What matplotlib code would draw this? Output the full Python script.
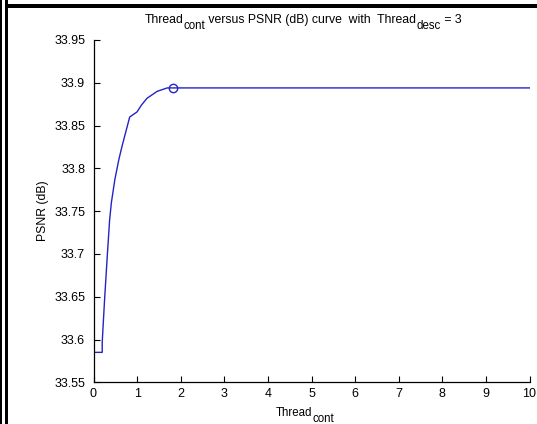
import matplotlib
matplotlib.use("Agg")
import matplotlib.pyplot as plt
from matplotlib.patches import Rectangle

plt.rcParams["font.family"] = ["Liberation Sans", "DejaVu Sans"]

# PSNR as a function of Thread_cont (Thread_desc = 3)
thread_cont = [0, 0.2, 0.2, 0.25, 0.31, 0.37, 0.41, 0.49, 0.58, 0.65, 0.83,
               1.0, 1.1, 1.23, 1.46, 1.69, 1.82, 10]
psnr = [33.585, 33.585, 33.597, 33.643, 33.693, 33.740, 33.760, 33.787, 33.810,
        33.825, 33.860, 33.866, 33.874, 33.882, 33.890, 33.894, 33.894, 33.894]
best_cont = 1.82
best_psnr = 33.894

x_ticks = list(range(0, 11))
y_ticks = [33.55, 33.6, 33.65, 33.7, 33.75, 33.8, 33.85, 33.9, 33.95]
y_tick_labels = ["33.55", "33.6", "33.65", "33.7", "33.75", "33.8", "33.85", "33.9", "33.95"]

W, H = 537, 424
fig = plt.figure(figsize=(W / 100, H / 100), dpi=100)
ax = fig.add_axes([93.5 / W, 1 - 382.3 / H, 436 / W, (382.3 - 40) / H])

line_color = "#2323c8"
ax.plot(thread_cont, psnr, color=line_color, lw=1.0)
ax.plot([best_cont], [best_psnr], marker="o", mfc="none", mec=line_color,
        ms=6, mew=1.0, ls="none")

ax.set_xlim(0, 10)
ax.set_ylim(33.55, 33.95)
ax.set_xticks(x_ticks)
ax.set_yticks(y_ticks)
ax.set_yticklabels(y_tick_labels)
for s in ("top", "right"):
    ax.spines[s].set_visible(False)
for s in ("left", "bottom"):
    ax.spines[s].set_linewidth(0.9)
ax.tick_params(direction="in", length=4, width=0.8, labelsize=9, colors="black")
ax.tick_params(axis="y", pad=6)
ax.tick_params(axis="x", pad=4)

ax.set_ylabel("PSNR (dB)", fontsize=8.8, labelpad=4)


def draw_pieces(pieces, cx, baseline_px):
    """Lay out text runs left to right (with subscript drops), centred at cx."""
    r = fig.canvas.get_renderer()
    texts = []
    for s, size, drop in pieces:
        t = fig.text(0, 0, s, fontsize=size, va="baseline", ha="left")
        texts.append((t, drop))
    widths = [t.get_window_extent(r).width for t, _ in texts]
    x = cx - sum(widths) / 2
    for (t, drop), w in zip(texts, widths):
        t.set_position((x / W, 1 - (baseline_px + drop) / H))
        x += w


# title and x label with full-size subscripts
draw_pieces([("Thread", 8.8, 0), ("cont", 8.3, 6),
             (" versus PSNR (dB) curve  with  Thread", 8.8, 0),
             ("desc", 8.3, 6), (" = 3", 8.8, 0)], 303, 23)
draw_pieces([("Thread", 8.3, 0), ("cont", 8.3, 5.5)], 305, 416)

# page frame: double rule on the left, heavy rule along the top
def px_rect(x0, y0, w, h):
    fig.patches.append(Rectangle((x0 / W, 1 - (y0 + h) / H), w / W, h / H,
                                 transform=fig.transFigure, color="black", lw=0))

px_rect(0, 0, 2.4, H)
px_rect(5.0, 0, 2.6, H)
px_rect(7.3, 3.7, W, 4.0)

fig.savefig("out.png", dpi=100)
